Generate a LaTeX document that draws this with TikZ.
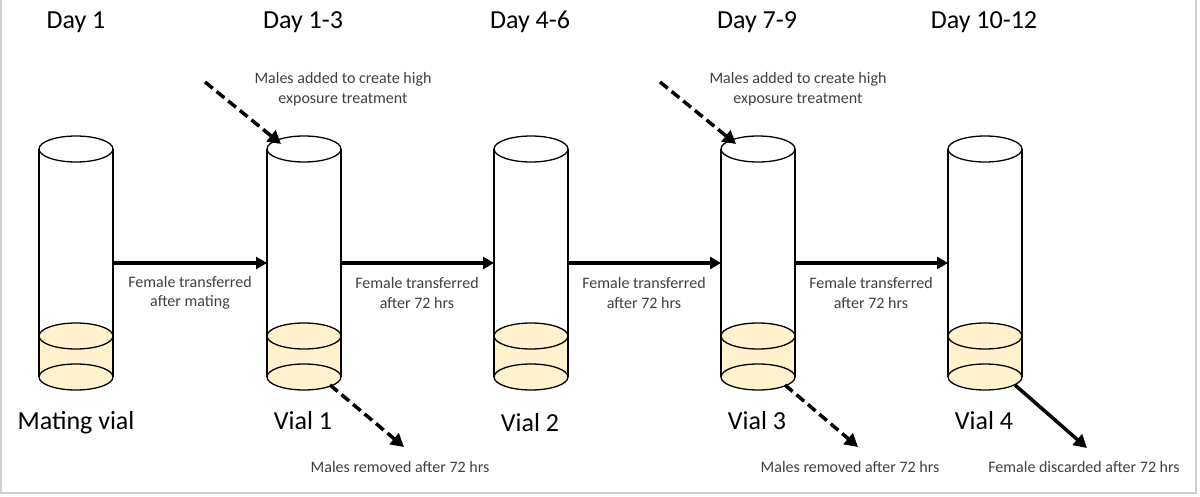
\documentclass[tikz,border=0pt]{standalone}
\usepackage{fontspec}
\setmainfont{Carlito}
\usetikzlibrary{arrows.meta}
\definecolor{liq}{HTML}{FFF2CC}
\definecolor{frame}{HTML}{D0D0D0}
\definecolor{txt}{HTML}{404040}
\tikzset{
  flow/.style={line width=3.5pt,-{Triangle[length=11pt,width=12pt]}},
  dasharrow/.style={line width=3.5pt,dash pattern=on 10pt off 5pt,-{Triangle[length=13pt,width=14pt]}},
  solidarrow/.style={line width=3.5pt,-{Triangle[length=13pt,width=14pt]}},
  small/.style={font=\fontsize{16}{19.5}\selectfont,text=txt,align=center},
  daylab/.style={font=\fontsize{26}{28}\selectfont},
  viallab/.style={font=\fontsize{26}{28}\selectfont},
  vline/.style={line width=1.3pt},
}
\begin{document}
\begin{tikzpicture}[x=1pt,y=-1pt]
\useasboundingbox (0,0) rectangle (1200,497);
\draw[frame,line width=1.5pt] (1,-5) -- (1,493) -- (1196,493) -- (1196,-5);
\foreach \i/\cx in {0/76,1/304,2/531,3/758,4/985}{
  \fill[liq] (\cx-37,336) rectangle (\cx+37,377);
  \draw[vline,fill=liq] (\cx,377) ellipse[x radius=37,y radius=13];
  \draw[vline,fill=liq] (\cx,336) ellipse[x radius=37,y radius=13];
  \draw[vline,fill=white] (\cx,149) ellipse[x radius=37,y radius=13];
  \draw[vline] (\cx-37,149) -- (\cx-37,377) (\cx+37,149) -- (\cx+37,377);
  \coordinate (L\i) at (\cx-37,263);
  \coordinate (R\i) at (\cx+37,263);
}
\node[daylab] (d0) at (76,22) {Day 1};
\node[daylab] (d1) at (303,22) {Day 1-3};
\node[daylab] (d2) at (530,22) {Day 4-6};
\node[daylab] (d3) at (757,22) {Day 7-9};
\node[daylab] (d4) at (984,22) {Day 10-12};
\node[viallab] (n0) at (76,423) {Mating vial};
\node[viallab] (n1) at (303,421) {Vial 1};
\node[viallab] (n2) at (530,423) {Vial 2};
\node[viallab] (n3) at (757,421) {Vial 3};
\node[viallab] (n4) at (984,421) {Vial 4};
\draw[flow] (R0) -- (L1);
\draw[flow] (R1) -- (L2);
\draw[flow] (R2) -- (L3);
\draw[flow] (R3) -- (L4);
\node[small] (t0) at (190,293) {Female transferred\\after mating};
\node[small] (t1) at (417,293) {Female transferred\\after 72 hrs};
\node[small] (t2) at (644,293) {Female transferred\\after 72 hrs};
\node[small] (t3) at (871,293) {Female transferred\\after 72 hrs};
\coordinate (a1s) at (205,82); \coordinate (a1e) at (281,144);
\coordinate (a3s) at (660,82); \coordinate (a3e) at (736,144);
\coordinate (b1s) at (330,385); \coordinate (b1e) at (404,447);
\coordinate (b3s) at (785,385); \coordinate (b3e) at (858,447);
\coordinate (b4s) at (1015,385); \coordinate (b4e) at (1087,448);
\draw[dasharrow] (a1s) -- (a1e);
\draw[dasharrow] (a3s) -- (a3e);
\draw[dasharrow] (b1s) -- (b1e);
\draw[dasharrow] (b3s) -- (b3e);
\draw[solidarrow] (b4s) -- (b4e);
\node[small] (m1) at (343,89) {Males added to create high\\exposure treatment};
\node[small] (m3) at (798,89) {Males added to create high\\exposure treatment};
\node[small] (r1) at (400,467) {Males removed after 72 hrs};
\node[small] (r3) at (850,467) {Males removed after 72 hrs};
\node[small] (r4) at (1084,467) {Female discarded after 72 hrs};
\end{tikzpicture}
\end{document}
